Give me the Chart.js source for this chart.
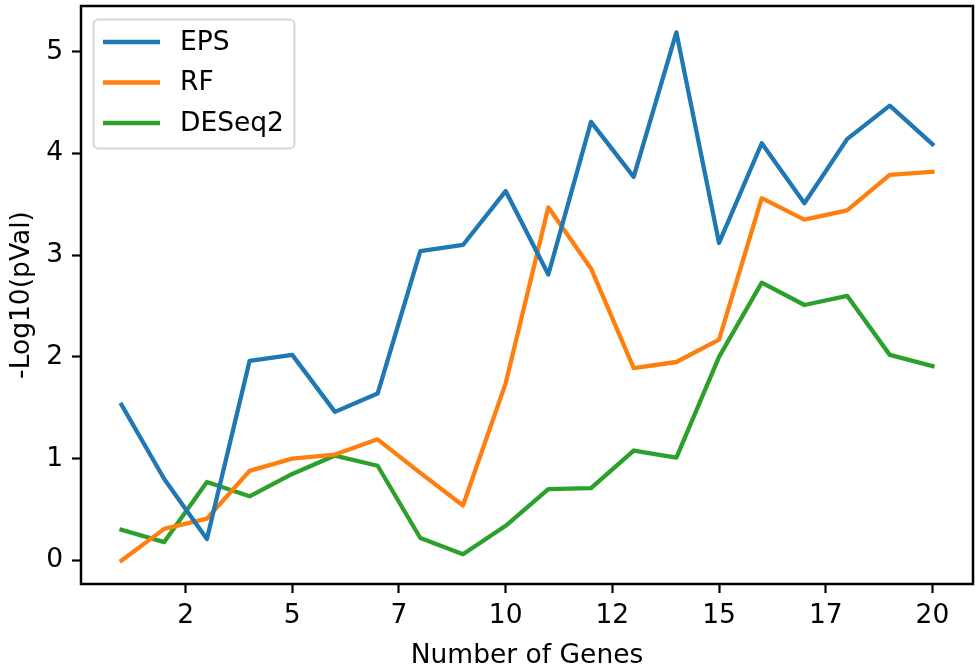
<!DOCTYPE html>
<html>
<head>
<meta charset="utf-8">
<script src="https://cdn.jsdelivr.net/npm/chart.js@4.4.1/dist/chart.umd.min.js"></script>
<style>
  body { margin: 0; background: #fff; }
  canvas { display: block; }
</style>
</head>
<body>
<canvas id="plot" width="979" height="672"></canvas>
<script>
// values
const geneCounts = [1, 2, 3, 4, 5, 6, 7, 8, 9, 10, 11, 12, 13, 14, 15, 16, 17, 18, 19, 20];
const epsVals = [1.53, 0.80, 0.21, 1.96, 2.02, 1.46, 1.64, 3.04, 3.10, 3.63, 2.81, 4.31, 3.77, 5.19, 3.12, 4.10, 3.51, 4.14, 4.47, 4.09];
const rfVals = [0.00, 0.31, 0.41, 0.88, 1.00, 1.04, 1.19, 0.86, 0.54, 1.74, 3.47, 2.87, 1.89, 1.95, 2.17, 3.56, 3.35, 3.44, 3.79, 3.82];
const deseqVals = [0.30, 0.18, 0.77, 0.63, 0.85, 1.03, 0.93, 0.22, 0.06, 0.34, 0.70, 0.71, 1.08, 1.01, 2.00, 2.73, 2.51, 2.60, 2.02, 1.91];

const xTickValues = [2.5, 5, 7.5, 10, 12.5, 15, 17.5, 20];
const xTickLabels = ['2', '5', '7', '10', '12', '15', '17', '20'];
const yTickValues = [0, 1, 2, 3, 4, 5];

const FONT = 'DejaVu Sans';
const FSIZE = 26.5;
Chart.defaults.font.family = FONT;
Chart.defaults.color = '#000';

const toPoints = vals => vals.map((v, i) => ({x: geneCounts[i], y: v}));

const series = [
  {label: 'EPS', vals: epsVals, color: '#1f77b4'},
  {label: 'RF', vals: rfVals, color: '#ff7f0e'},
  {label: 'DESeq2', vals: deseqVals, color: '#2ca02c'}
];

const data = {
  datasets: series.map(s => ({
    label: s.label,
    data: toPoints(s.vals),
    borderColor: s.color,
    backgroundColor: s.color,
    borderWidth: 4.3,
    pointRadius: 0,
    tension: 0,
    fill: false,
    borderCapStyle: 'square',
    borderJoinStyle: 'round'
  }))
};

// axes frame + legend box in the upper left, matplotlib style
const framePlugin = {
  id: 'frame',
  afterDatasetsDraw(chart) {
    const {ctx, chartArea: a} = chart;
    ctx.save();
    ctx.strokeStyle = '#000';
    ctx.lineWidth = 2.5;
    ctx.strokeRect(a.left, a.top, a.right - a.left, a.bottom - a.top);

    // legend
    const bx = 93.5, by = 19.5, bw = 201, bh = 129, r = 5;
    ctx.beginPath();
    ctx.moveTo(bx + r, by);
    ctx.arcTo(bx + bw, by, bx + bw, by + bh, r);
    ctx.arcTo(bx + bw, by + bh, bx, by + bh, r);
    ctx.arcTo(bx, by + bh, bx, by, r);
    ctx.arcTo(bx, by, bx + bw, by, r);
    ctx.closePath();
    ctx.fillStyle = 'rgba(255,255,255,0.8)';
    ctx.fill();
    ctx.strokeStyle = '#d6d6d6';
    ctx.lineWidth = 2;
    ctx.stroke();

    ctx.font = FSIZE + 'px "' + FONT + '"';
    ctx.textBaseline = 'middle';
    ctx.textAlign = 'left';
    chart.data.datasets.forEach((ds, i) => {
      const y = 42 + i * 40.5;
      ctx.strokeStyle = ds.borderColor;
      ctx.lineWidth = 4.3;
      ctx.lineCap = 'butt';
      ctx.beginPath();
      ctx.moveTo(103, y);
      ctx.lineTo(160, y);
      ctx.stroke();
      ctx.fillStyle = '#000';
      ctx.fillText(ds.label, 180, y + 1);
    });
    ctx.restore();
  }
};

const config = {
  type: 'line',
  data: data,
  options: {
    responsive: false,
    animation: false,
    layout: {padding: {top: 6, right: 6, left: 0, bottom: 0}},
    plugins: {legend: {display: false}, tooltip: {enabled: false}},
    scales: {
      x: {
        type: 'linear',
        min: 0.05,
        max: 20.95,
        afterBuildTicks: scale => { scale.ticks = xTickValues.map(v => ({value: v})); },
        afterFit: scale => { scale.height = 88; scale.paddingLeft = 0; scale.paddingRight = 0; },
        ticks: {
          font: {size: FSIZE},
          padding: 7,
          maxRotation: 0,
          callback: (v, i) => xTickLabels[i]
        },
        grid: {drawOnChartArea: false, tickLength: 9, tickWidth: 2.2, tickColor: '#000'},
        border: {display: false},
        title: {display: true, text: 'Number of Genes', font: {size: FSIZE}, padding: {top: 0, bottom: 0}}
      },
      y: {
        min: -0.232,
        max: 5.449,
        afterBuildTicks: scale => { scale.ticks = yTickValues.map(v => ({value: v})); },
        afterFit: scale => { scale.width = 81; scale.paddingTop = 0; scale.paddingBottom = 0; },
        ticks: {font: {size: FSIZE}, padding: 9},
        grid: {drawOnChartArea: false, tickLength: 9, tickWidth: 2.2, tickColor: '#000'},
        border: {display: false},
        title: {display: true, text: '-Log10(pVal)', font: {size: FSIZE}, padding: {top: 6, bottom: 0}}
      }
    }
  },
  plugins: [framePlugin]
};

let ctx = document.getElementById('plot').getContext('2d');
let chart = new Chart(ctx, config);
</script>
</body>
</html>
